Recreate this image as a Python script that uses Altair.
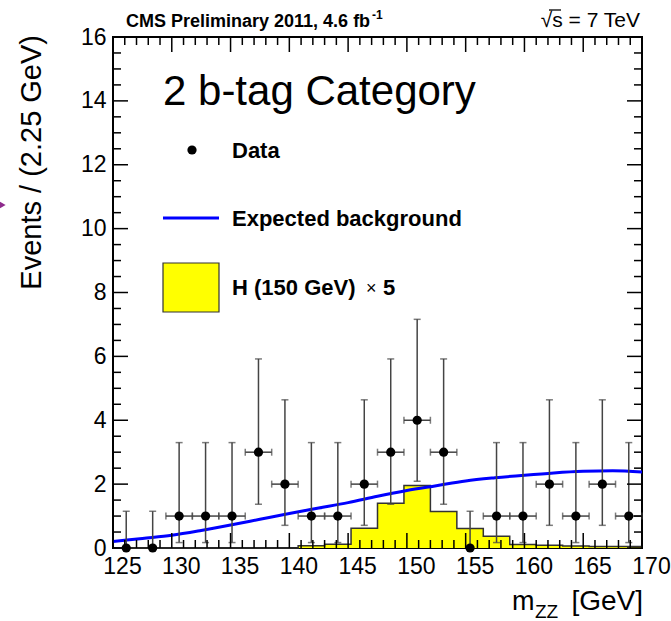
import altair as alt
import pandas as pd

# ---------------- data ----------------
bin_lo = [125.0, 127.25, 129.5, 131.75, 134.0, 136.25, 138.5, 140.75, 143.0, 145.25,
          147.5, 149.75, 152.0, 154.25, 156.5, 158.75, 161.0, 163.25, 165.5, 167.75]
bin_hi = [127.25, 129.5, 131.75, 134.0, 136.25, 138.5, 140.75, 143.0, 145.25, 147.5,
          149.75, 152.0, 154.25, 156.5, 158.75, 161.0, 163.25, 165.5, 167.75, 170.0]
bin_center = [126.125, 128.375, 130.625, 132.875, 135.125, 137.375, 139.625, 141.875,
              144.125, 146.375, 148.625, 150.875, 153.125, 155.375, 157.625, 159.875,
              162.125, 164.375, 166.625, 168.875]
data_counts = [0, 0, 1, 1, 1, 3, 2, 1, 1, 2, 3, 4, 3, 0, 1, 1, 2, 1, 2, 1]
err_low = [0, 0, 0.17, 0.17, 0.17, 1.37, 0.71, 0.17, 0.17, 0.71, 1.37, 2.09, 1.37, 0,
           0.17, 0.17, 0.71, 0.17, 0.71, 0.17]
err_high = [1.15, 1.15, 3.30, 3.30, 3.30, 5.92, 4.64, 3.30, 3.30, 4.64, 5.92, 7.16, 5.92,
            1.15, 3.30, 3.30, 4.64, 3.30, 4.64, 3.30]

signal_x5 = [0, 0, 0, 0, 0, 0, 0, 0.07, 0.12, 0.62, 1.40, 1.96, 1.14, 0.61, 0.37, 0.11,
             0.09, 0.06, 0.05, 0.05]

bkg_mass = [125, 127.5, 130, 132.5, 135, 137.5, 140, 142.5, 145, 147.5, 150, 152.5, 155,
            157.5, 160, 162.5, 165, 167.5, 170]
bkg_events = [0.20, 0.30, 0.40, 0.55, 0.72, 0.90, 1.08, 1.25, 1.42, 1.62, 1.80, 1.95,
              2.10, 2.20, 2.28, 2.35, 2.40, 2.42, 2.38]

x_major = [125, 130, 135, 140, 145, 150, 155, 160, 165, 170]
x_minor = [v for v in range(125, 171) if v % 5 != 0]
y_major = [0, 2, 4, 6, 8, 10, 12, 14, 16]
y_minor = [i * 0.5 + 0.5 for i in range(32) if (i * 0.5 + 0.5) % 2 != 0]

title_left = "CMS Preliminary 2011, 4.6 fb"
title_left_sup = "-1"
title_right = "\u221As = 7 TeV"
category_text = "2 b-tag Category"
leg_data = "Data"
leg_bkg = "Expected background"
leg_sig = "H (150 GeV) "
leg_sig_times = "\u00d7"
leg_sig_factor = "5"
y_title = "Events / (2.25 GeV)"
x_title_m = "m"
x_title_sub = "ZZ"
x_title_unit = "[GeV]"

# ---------------- tables ----------------
pts = pd.DataFrame({"c": bin_center, "n": data_counts, "lo": err_low, "hi": err_high,
                    "xl": bin_lo, "xr": bin_hi})
sig = pd.DataFrame({"x": bin_lo + [bin_hi[-1]], "y": signal_x5 + [signal_x5[-1]]})
bkg = pd.DataFrame({"m": bkg_mass, "e": bkg_events})

W, H = 529, 511
FONT = "Liberation Sans"
xs = alt.Scale(domain=[125, 170], nice=False, zero=False)
ys = alt.Scale(domain=[0, 16], nice=False, zero=False)
xaxis = alt.Axis(values=x_major, ticks=False, domain=False, grid=False, title=None,
                 labelFontSize=23, labelFont=FONT, labelColor="black", labelPadding=7,
                 labelOffset=9, labelFlush=False, labelOverlap=False)
yaxis = alt.Axis(values=y_major, ticks=False, domain=False, grid=False, title=None,
                 labelFontSize=23, labelFont=FONT, labelColor="black", labelPadding=7,
                 labelFlush=False, labelOverlap=False)


def X(f):
    return alt.X(f, type="quantitative", scale=xs, axis=xaxis)


def Y(f):
    return alt.Y(f, type="quantitative", scale=ys, axis=yaxis)


base = alt.Chart(pts)

sig_area = alt.Chart(sig).mark_area(interpolate="step-after", color="#ffff00").encode(
    x=X("x"), y=Y("y"))
sig_line = alt.Chart(sig).mark_line(interpolate="step-after", color="#333333",
                                    strokeWidth=1.5).encode(x=X("x"), y=Y("y"))

bkg_line = alt.Chart(bkg).mark_line(interpolate="monotone", color="#0000ff",
                                    strokeWidth=3).encode(x=X("m"), y=Y("e"))

ERR = "#444444"
vbar = base.mark_rule(color=ERR, strokeWidth=1.5).encode(x=X("c"), y=Y("lo"), y2="hi")
vcap_hi = base.mark_tick(orient="horizontal", color=ERR, size=7, thickness=1.5).encode(
    x=X("c"), y=Y("hi"))
vcap_lo = base.mark_tick(orient="horizontal", color=ERR, size=7, thickness=1.5).encode(
    x=X("c"), y=Y("lo"))
nz = base.transform_filter("datum.n > 0")
hbar = nz.mark_rule(color=ERR, strokeWidth=1.5).encode(x=X("xl"), x2="xr", y=Y("n"))
hcap_l = nz.mark_tick(orient="vertical", color=ERR, size=7, thickness=1.5).encode(
    x=X("xl"), y=Y("n"))
hcap_r = nz.mark_tick(orient="vertical", color=ERR, size=7, thickness=1.5).encode(
    x=X("xr"), y=Y("n"))
dots = base.mark_circle(color="black", size=85, opacity=1).encode(x=X("c"), y=Y("n"))

TK = dict(color="black", strokeWidth=1.5)


def xticks(vals, length):
    d = alt.Chart(pd.DataFrame({"t": vals}))
    return [d.mark_rule(**TK).encode(x=X("t"), y=alt.value(H), y2=alt.value(H - length)),
            d.mark_rule(**TK).encode(x=X("t"), y=alt.value(0), y2=alt.value(length))]


def yticks(vals, length):
    d = alt.Chart(pd.DataFrame({"t": vals}))
    return [d.mark_rule(**TK).encode(y=Y("t"), x=alt.value(0), x2=alt.value(length)),
            d.mark_rule(**TK).encode(y=Y("t"), x=alt.value(W), x2=alt.value(W - length))]


ticks = xticks(x_major, 15) + xticks(x_minor, 8) + yticks(y_major, 15) + yticks(y_minor, 8)


def txt(s, x, y, size, bold=False, align="left", baseline="alphabetic", angle=0,
        font=FONT, color="black"):
    kw = dict(align=align, baseline=baseline, fontSize=size, font=font, color=color)
    if bold:
        kw["fontWeight"] = "bold"
    if angle:
        kw["angle"] = angle
    return alt.Chart(pd.DataFrame({"t": [s]})).mark_text(**kw).encode(
        x=alt.value(x), y=alt.value(y), text="t:N")


texts = [
    txt(title_left, 13, -10, 18, bold=True),
    txt(title_left_sup, 259, -18, 12, bold=True),
    txt(title_right, 527, -10, 21, align="right"),
    txt(category_text, 50, 68, 42),
    txt(leg_data, 119, 121, 22, bold=True),
    txt(leg_bkg, 119, 189, 22, bold=True),
    txt(leg_sig, 119, 258, 22, bold=True),
    txt(leg_sig_times, 253, 257, 18),
    txt(leg_sig_factor, 270, 258, 22, bold=True),
    txt(y_title, -72, -2, 29, align="right", angle=270),
    txt(x_title_m, 399, 573, 27),
    txt(x_title_sub, 422, 581, 19),
    txt(x_title_unit, 530, 573, 28, align="right"),
]

one = alt.Chart(pd.DataFrame({"k": [0]}))
sqrt_bar = one.mark_rule(color="black", strokeWidth=1.3).encode(
    x=alt.value(436), x2=alt.value(448), y=alt.value(-27))
leg_dot = one.mark_circle(color="black", size=85, opacity=1).encode(
    x=alt.value(79), y=alt.value(113))
leg_line = one.mark_rule(color="#0000ff", strokeWidth=3).encode(
    x=alt.value(50), x2=alt.value(106), y=alt.value(181))
leg_box = one.mark_rect(color="#ffff00", stroke="#333333", strokeWidth=1.2).encode(
    x=alt.value(50), x2=alt.value(106), y=alt.value(226), y2=alt.value(275))
arrow = one.mark_point(shape="triangle-right", filled=True, color="#8e2a8c", size=70,
                       opacity=1).encode(x=alt.value(-111), y=alt.value(168))

chart = alt.layer(
    sig_area, sig_line, bkg_line, vbar, vcap_hi, vcap_lo, hbar, hcap_l, hcap_r, dots,
    *ticks, leg_dot, leg_line, leg_box, arrow, sqrt_bar, *texts
).properties(
    width=W, height=H,
    padding={"left": 113, "top": 37, "right": 29, "bottom": 73},
    autosize=alt.AutoSizeParams(type="none"),
    background="white",
).configure_view(stroke="black", strokeWidth=2)

chart.save("out.html", embed_options={"renderer": "svg", "actions": False})
